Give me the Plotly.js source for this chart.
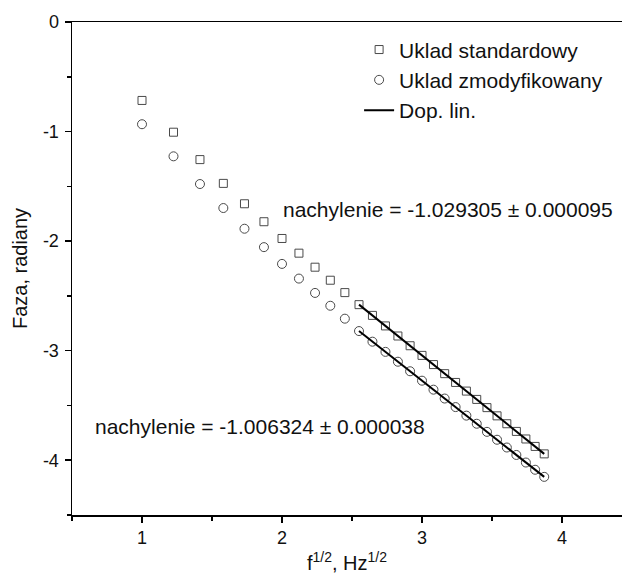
<!DOCTYPE html>
<html>
<head>
<meta charset="utf-8">
<script src="https://cdn.plot.ly/plotly-3.0.1.min.js"></script>
<style>html,body{margin:0;padding:0;background:#fff;}#chart{width:622px;height:574px;}</style>
</head>
<body>
<div id="chart"></div>
<script>
// sqrt(f) positions of the measured points
const xStd = [1.000, 1.225, 1.414, 1.581, 1.732, 1.871, 2.000, 2.121, 2.236, 2.345, 2.449,
  2.550, 2.646, 2.739, 2.828, 2.915, 3.000, 3.082, 3.162, 3.240, 3.317, 3.391, 3.464, 3.536, 3.606, 3.674, 3.742, 3.808, 3.873];
const yStd = [-0.716, -1.006, -1.256, -1.473, -1.659, -1.823, -1.976, -2.110, -2.238, -2.357, -2.470,
  -2.580, -2.678, -2.774, -2.866, -2.955, -3.043, -3.127, -3.210, -3.290, -3.369, -3.445, -3.520, -3.595, -3.667, -3.737, -3.806, -3.874, -3.942];
const xMod = xStd;
const yMod = [-0.933, -1.226, -1.479, -1.698, -1.887, -2.055, -2.208, -2.342, -2.473, -2.590, -2.708,
  -2.821, -2.918, -3.011, -3.101, -3.188, -3.274, -3.356, -3.437, -3.515, -3.593, -3.667, -3.741, -3.813, -3.884, -3.952, -4.021, -4.087, -4.152];
// fitted lines (end points)
const xFit = [2.550, 3.873];
const yFitStd = [-2.580, -3.942];
const yFitMod = [-2.821, -4.152];

// tick labels
const xTickVals = [1, 2, 3, 4];
const xTickText = ["1", "2", "3", "4"];
const xMinorVals = [0.5, 1.5, 2.5, 3.5];
const yTickVals = [0, -1, -2, -3, -4];
const yTickText = ["0", "-1", "-2", "-3", "-4"];
const yMinorVals = [-0.5, -1.5, -2.5, -3.5, -4.5];

const seriesNames = ["Uklad standardowy", "Uklad zmodyfikowany", "Dop. lin."];
const slopeStd = "nachylenie = -1.029305 \u00b1 0.000095";
const slopeMod = "nachylenie = -1.006324 \u00b1 0.000038";
const xTitle = "f<sup>1/2</sup>, Hz<sup>1/2</sup>";
const yTitle = "Faza, radiany";

const FONT = "Liberation Sans, Arial, Helvetica, sans-serif";

const traces = [
  {x: xStd, y: yStd, type: "scatter", mode: "markers", name: seriesNames[0],
   marker: {symbol: "square-open", size: 8, color: "#4a4a4a", line: {width: 1, color: "#4a4a4a"}}},
  {x: xMod, y: yMod, type: "scatter", mode: "markers", name: seriesNames[1],
   marker: {symbol: "circle-open", size: 9, color: "#4a4a4a", line: {width: 1, color: "#4a4a4a"}}},
  {x: xFit, y: yFitStd, type: "scatter", mode: "lines", name: seriesNames[2], legendgroup: "fit",
   line: {color: "#000", width: 2}},
  {x: xFit, y: yFitMod, type: "scatter", mode: "lines", name: seriesNames[2], legendgroup: "fit", showlegend: false,
   line: {color: "#000", width: 2}}
];

const axisCommon = {
  showgrid: false, zeroline: false, showline: true, linecolor: "#000", linewidth: 1.5,
  ticks: "outside", ticklen: 6, tickwidth: 1.5, tickcolor: "#000", tickmode: "array",
  tickfont: {family: FONT, size: 18, color: "#111"}, automargin: false
};

const layout = {
  width: 622, height: 574,
  margin: {l: 72, r: 0, t: 22, b: 59, pad: 0},
  paper_bgcolor: "#fff", plot_bgcolor: "#fff",
  font: {family: FONT, size: 18, color: "#111"},
  showlegend: true,
  legend: {x: 0.522, xanchor: "left", y: 0.985, yanchor: "top", bgcolor: "rgba(0,0,0,0)",
           font: {family: FONT, size: 21, color: "#111"}, tracegroupgap: 0, itemwidth: 30},
  xaxis: Object.assign({}, axisCommon, {
    range: [0.5, 4.4286], mirror: true,
    tickvals: xTickVals, ticktext: xTickText,
    minor: {tickmode: "array", tickvals: xMinorVals, ticks: "outside", ticklen: 4, tickwidth: 1.5, tickcolor: "#000", showgrid: false},
    title: {text: xTitle, font: {family: FONT, size: 20, color: "#111"}, standoff: 26}
  }),
  yaxis: Object.assign({}, axisCommon, {
    range: [-4.5, 0],
    tickvals: yTickVals, ticktext: yTickText, ticklabelstandoff: 2,
    minor: {tickmode: "array", tickvals: yMinorVals, ticks: "outside", ticklen: 4, tickwidth: 1.5, tickcolor: "#000", showgrid: false},
    title: {text: yTitle, font: {family: FONT, size: 20, color: "#111"}, standoff: 10}
  }),
  annotations: [
    {x: 1.996, y: -1.709, xref: "x", yref: "y", xanchor: "left", yanchor: "middle", showarrow: false,
     text: slopeStd, font: {family: FONT, size: 21, color: "#111"}},
    {x: 0.65, y: -3.695, xref: "x", yref: "y", xanchor: "left", yanchor: "middle", showarrow: false,
     text: slopeMod, font: {family: FONT, size: 21, color: "#111"}}
  ]
};

Plotly.newPlot("chart", traces, layout, {displayModeBar: false, staticPlot: true});
</script>
</body>
</html>
